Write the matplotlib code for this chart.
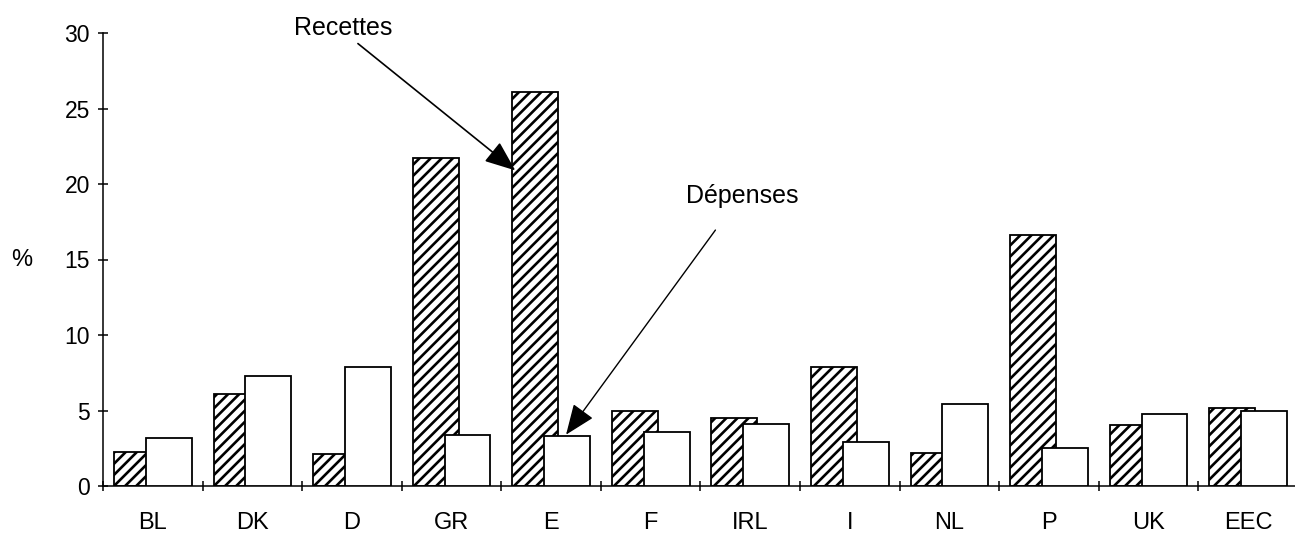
import matplotlib
matplotlib.use("Agg")
import matplotlib.pyplot as plt
import numpy as np

categories = ["BL", "DK", "D", "GR", "E", "F", "IRL", "I", "NL", "P", "UK", "EEC"]
recettes = [2.25, 6.1, 2.1, 21.7, 26.1, 5.0, 4.5, 7.9, 2.2, 16.6, 4.05, 5.15]
depenses = [3.2, 7.3, 7.9, 3.4, 3.3, 3.6, 4.1, 2.9, 5.4, 2.5, 4.75, 5.0]
yticks = [0, 5, 10, 15, 20, 25, 30]

plt.rcParams['font.family'] = ['Liberation Sans', 'DejaVu Sans']
plt.rcParams['hatch.linewidth'] = 1.9
plt.rcParams['hatch.color'] = 'black'

fig = plt.figure(figsize=(12.95, 5.36), dpi=100)
ax = fig.add_axes([103/1295, 50/536, 1 - 103/1295, (486-33)/536])

x = np.arange(len(categories))
ax.bar(x - 0.5 + 0.11, recettes, width=0.46, align='edge', facecolor='white',
       edgecolor='black', hatch='///', linewidth=1.3, zorder=2)
ax.bar(x - 0.5 + 0.43, depenses, width=0.46, align='edge', facecolor='white',
       edgecolor='black', linewidth=1.3, zorder=3)

ax.set_xlim(-0.5, 11.47)
ax.set_ylim(0, 30)
for s in ['top', 'right']:
    ax.spines[s].set_visible(False)
ax.spines['left'].set_linewidth(1.1)
ax.spines['bottom'].set_linewidth(1.1)

ax.set_yticks(yticks)
ax.set_yticklabels([str(v) for v in yticks], fontsize=16.5)
ax.tick_params(axis='y', direction='inout', length=7, width=1.1, pad=6)

ax.set_xticks(x)
ax.set_xticklabels(categories, fontsize=17)
ax.tick_params(axis='x', which='major', length=0, pad=19)
ax.set_xticks(np.concatenate([[-0.5], np.arange(len(categories) - 1) + 0.5]), minor=True)
ax.tick_params(axis='x', which='minor', direction='inout', length=7, width=1.1)

fig.text(22/1295, 1 - 260/536, '%', fontsize=17, ha='center', va='center')

ax.text(1.91, 30.3, 'Recettes', fontsize=18, ha='center', va='center')
ax.annotate('', xy=(3.64, 20.9), xytext=(2.06, 29.3),
            arrowprops=dict(arrowstyle='-|>,head_length=0.95,head_width=0.38',
                            mutation_scale=20, lw=1.2, color='black',
                            shrinkA=0, shrinkB=0))
ax.text(5.92, 19.2, 'Dépenses', fontsize=18, ha='center', va='center')
ax.annotate('', xy=(4.15, 3.4), xytext=(5.65, 16.95),
            arrowprops=dict(arrowstyle='-|>,head_length=0.95,head_width=0.38',
                            mutation_scale=20, lw=1.0, color='black',
                            shrinkA=0, shrinkB=0))

fig.savefig('out.png', dpi=100)
